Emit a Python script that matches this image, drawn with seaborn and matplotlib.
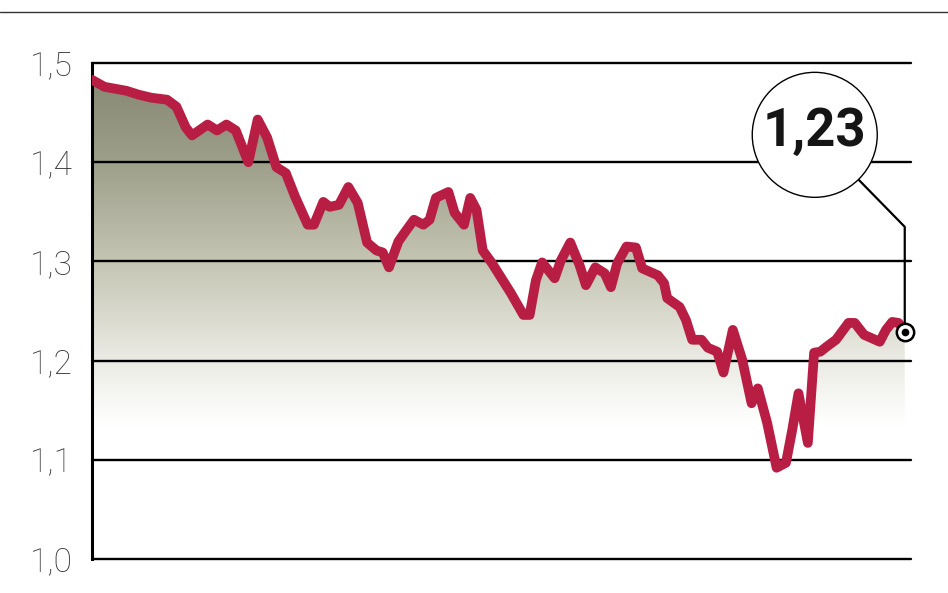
import numpy as np
import pandas as pd
import matplotlib
matplotlib.use('Agg')
import matplotlib.pyplot as plt
import seaborn as sns
from matplotlib.colors import LinearSegmentedColormap
from matplotlib.patches import Circle
from matplotlib.lines import Line2D
from matplotlib.transforms import ScaledTranslation

# trading day index and rate
days = [0, 4, 11, 15, 19, 24, 27, 30, 32, 37, 40, 43, 46, 50, 53, 56, 59, 62, 65, 69,
        71, 74, 76, 79, 82, 85, 88, 91, 93, 95, 98, 100, 103, 106, 108, 110, 114, 116, 119, 121,
        123, 125, 128, 132, 134, 138, 140, 142, 144, 148, 150, 153, 156, 158, 161, 164, 166, 168, 171, 174,
        176, 181, 183, 184, 188, 190, 192, 195, 197, 200, 202, 205, 208, 211, 213, 216, 219, 222, 224, 226,
        229, 231, 233, 235, 238, 242, 244, 247, 252, 254, 256, 258, 260]
rate = [1.483, 1.476, 1.472, 1.468, 1.465, 1.463, 1.456, 1.435, 1.427, 1.438, 1.432, 1.438, 1.432, 1.400, 1.443, 1.425, 1.395, 1.389, 1.365, 1.337,
        1.337, 1.360, 1.355, 1.357, 1.375, 1.359, 1.319, 1.311, 1.309, 1.294, 1.320, 1.329, 1.342, 1.337, 1.342, 1.364, 1.370, 1.349, 1.337, 1.364,
        1.352, 1.311, 1.298, 1.278, 1.268, 1.246, 1.246, 1.281, 1.299, 1.283, 1.301, 1.319, 1.296, 1.276, 1.294, 1.288, 1.274, 1.298, 1.315, 1.314,
        1.293, 1.286, 1.278, 1.263, 1.254, 1.241, 1.221, 1.221, 1.213, 1.209, 1.188, 1.231, 1.201, 1.157, 1.172, 1.137, 1.092, 1.097, 1.130, 1.167,
        1.117, 1.208, 1.209, 1.214, 1.221, 1.238, 1.238, 1.226, 1.219, 1.231, 1.239, 1.238, 1.229]
y_ticks = [1.0, 1.1, 1.2, 1.3, 1.4, 1.5]
y_labels = ['1,0', '1,1', '1,2', '1,3', '1,4', '1,5']
last_label = '1,23'

df = pd.DataFrame({'day': days, 'rate': rate})

sns.set_style('white')
plt.rcParams['font.family'] = ['Roboto', 'DejaVu Sans']

fig = plt.figure(figsize=(9.48, 5.93), dpi=100)
ax = fig.add_axes([92 / 948, 1 - 559 / 593, (911 - 92) / 948, (559 - 63) / 593])

x_max = 262
ax.set_xlim(0, x_max)
ax.set_ylim(y_ticks[0], y_ticks[-1])

# gradient fill under the line
fill = ax.fill_between(df['day'], df['rate'], y_ticks[0], facecolor='none', edgecolor='none')
cmap = LinearSegmentedColormap.from_list('olive', [
    (0.0, '#ffffff'), (0.27, '#ffffff'), (0.40, '#ebebe4'),
    (0.6, '#c4c5b3'), (0.8, '#9d9f8b'), (1.0, '#83856f')])
grad = np.linspace(0, 1, 256).reshape(-1, 1)
im = ax.imshow(grad, cmap=cmap, aspect='auto', origin='lower',
               extent=[0, x_max, y_ticks[0], y_ticks[-1]], zorder=0)
im.set_clip_path(fill.get_paths()[0], transform=ax.transData)

sns.lineplot(data=df, x='day', y='rate', ax=ax, color='#b81e44', lw=7.0,
             solid_joinstyle='round', solid_capstyle='round', zorder=4)

ax.set_yticks(y_ticks)
ax.set_yticklabels(y_labels, fontsize=24, color='#333333', fontweight='light')
ax.set_xticks([])
ax.tick_params(axis='y', length=0, pad=14)
ax.set_axisbelow(False)
ax.yaxis.grid(True, color='black', lw=1.7)
for gl in ax.get_ygridlines():
    gl.set_clip_on(False)
for s in ['top', 'right', 'bottom']:
    ax.spines[s].set_visible(False)
ax.spines['left'].set_color('black')
ax.spines['left'].set_linewidth(2.2)
ax.set_xlabel('')
ax.set_ylabel('')

# callout for the last value, offsets in inches from the last point
tr = fig.dpi_scale_trans + ScaledTranslation(days[-1], rate[-1], ax.transData)
ax.add_line(Line2D([-0.46, 0, 0], [1.52, 1.05, 0.09], color='black', lw=1.6,
                   transform=tr, clip_on=False, zorder=5))
ax.add_patch(Circle((-0.90, 1.97), 0.625, facecolor='white', edgecolor='black',
                    lw=1.0, transform=tr, clip_on=False, zorder=6))
ax.text(-0.905, 2.0, last_label, transform=tr, ha='center', va='center',
        fontsize=38, fontweight='bold', color='#151515', zorder=7)
ax.plot(days[-1], rate[-1], 'o', ms=12.5, mfc='white', mec='black', mew=1.8,
        clip_on=False, zorder=8)
ax.plot(days[-1], rate[-1], 'o', ms=4.5, color='black', clip_on=False, zorder=9)

# thin rule at the top of the graphic
fig.add_artist(Line2D([0, 1], [1 - 12 / 593, 1 - 12 / 593], color='#333333', lw=1.0))

fig.savefig('out.png', dpi=100)
